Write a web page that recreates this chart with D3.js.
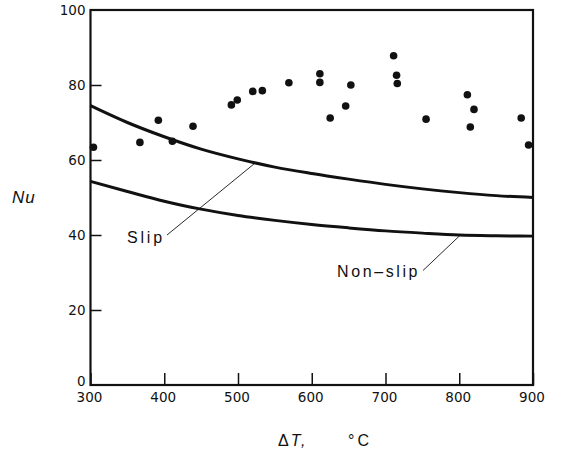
<!DOCTYPE html>
<html>
<head>
<meta charset="utf-8">
<script src="https://cdn.jsdelivr.net/npm/d3@7"></script>
<style>
  body { margin: 0; background: #fff; }
  text { font-family: "Liberation Sans", Arial, sans-serif; fill: #111; }
</style>
</head>
<body>
<div id="chart"></div>
<script>
// measured points (delta T, Nu)
const pointsT  = [304, 367, 392, 411, 439, 491, 499, 520, 533, 569, 611, 611, 625, 646, 653, 711, 715, 716, 755, 811, 820, 815, 884, 894];
const pointsNu = [63.4, 64.7, 70.6, 65.0, 69.0, 74.7, 76.0, 78.3, 78.5, 80.6, 83.0, 80.7, 71.2, 74.4, 80.0, 87.8, 82.6, 80.4, 70.9, 77.4, 73.5, 68.8, 71.2, 64.0];

// predicted curves
const curveT      = [300, 350, 400, 450, 500, 550, 600, 650, 700, 750, 800, 850, 900];
const slipNu      = [74.5, 70.0, 66.2, 62.9, 60.3, 58.1, 56.4, 54.9, 53.5, 52.3, 51.3, 50.5, 50.0];
const nonSlipNu   = [54.3, 51.6, 49.0, 46.9, 45.2, 43.9, 42.8, 41.9, 41.1, 40.5, 40.0, 39.8, 39.7];

const xTicks = [300, 400, 500, 600, 700, 800, 900];
const yTicks = [0, 20, 40, 60, 80, 100];

const width = 561, height = 456;
const margin = {left: 90.5, right: 28, top: 10, bottom: 71};

const svg = d3.select('#chart').append('svg')
    .attr('width', width)
    .attr('height', height);

const x = d3.scaleLinear().domain([300, 900]).range([margin.left, width - margin.right]);
const y = d3.scaleLinear().domain([0, 100]).range([height - margin.bottom, margin.top]);

// frame
svg.append('rect')
    .attr('x', x(300)).attr('y', y(100))
    .attr('width', x(900) - x(300)).attr('height', y(0) - y(100))
    .attr('fill', 'none').attr('stroke', '#111').attr('stroke-width', 2.2);

// axes with inward ticks
const xAxis = svg.append('g')
    .attr('transform', `translate(0,${y(0)})`)
    .call(d3.axisTop(x).tickValues(xTicks).tickSize(12).tickFormat(''));
xAxis.select('.domain').remove();
xAxis.selectAll('line').attr('stroke', '#111').attr('stroke-width', 1.5);
svg.append('g').selectAll('text')
    .data(xTicks)
    .join('text')
    .attr('x', d => x(d) - 1)
    .attr('y', y(0) + 17)
    .attr('text-anchor', 'middle')
    .style('font-family', '"DejaVu Sans", sans-serif')
    .attr('font-size', 13.5)
    .text(d => d);

const yAxis = svg.append('g')
    .attr('transform', `translate(${x(300)},0)`)
    .call(d3.axisRight(y).tickValues(yTicks.filter(d => d > 0 && d < 100)).tickSize(11).tickFormat(''));
yAxis.select('.domain').remove();
yAxis.selectAll('line').attr('stroke', '#111').attr('stroke-width', 1.5);
svg.append('g').selectAll('text')
    .data(yTicks)
    .join('text')
    .attr('x', x(300) - 5)
    .attr('y', d => d === 0 ? y(d) + 0.5 : y(d) + 5)
    .attr('text-anchor', 'end')
    .style('font-family', '"DejaVu Sans", sans-serif')
    .attr('font-size', 13.5)
    .text(d => d);

// curves
const line = d3.line().curve(d3.curveMonotoneX);
const slipData = curveT.map((t, i) => [x(t), y(slipNu[i])]);
const nonSlipData = curveT.map((t, i) => [x(t), y(nonSlipNu[i])]);
svg.append('g').selectAll('path')
    .data([slipData, nonSlipData])
    .join('path')
    .attr('d', line)
    .attr('fill', 'none')
    .attr('stroke', '#111')
    .attr('stroke-width', 3);

// points
svg.append('g').selectAll('circle')
    .data(pointsT)
    .join('circle')
    .attr('cx', d => x(d))
    .attr('cy', (d, i) => y(pointsNu[i]))
    .attr('r', 3.8)
    .attr('fill', '#111');

// labels with leader lines
const labels = [
  {text: 'Slip', tx: 127, ty: 243, spacing: 2.8, from: [167, 235], to: [522, 59.0]},
  {text: 'Non\u2013slip', tx: 337, ty: 277, spacing: 2.6, from: [423, 270.5], to: [801, 39.9]}
];
labels.forEach(l => {
  svg.append('line')
      .attr('x1', l.from[0]).attr('y1', l.from[1])
      .attr('x2', x(l.to[0])).attr('y2', y(l.to[1]))
      .attr('stroke', '#111').attr('stroke-width', 0.9);
  svg.append('text')
      .attr('x', l.tx).attr('y', l.ty)
      .attr('font-size', 16)
      .attr('letter-spacing', l.spacing)
      .text(l.text);
});

// axis titles
svg.append('text')
    .attr('x', 12).attr('y', 203)
    .attr('font-size', 17)
    .attr('font-style', 'italic')
    .attr('letter-spacing', 1)
    .text('Nu');

const xt = svg.append('text')
    .attr('x', 278).attr('y', 446)
    .attr('font-size', 16)
    .attr('letter-spacing', 2);
xt.append('tspan').text('\u0394');
xt.append('tspan').attr('font-style', 'italic').text('T,');
xt.append('tspan').attr('x', 348).attr('letter-spacing', 3).text('\u00b0C');
</script>
</body>
</html>
